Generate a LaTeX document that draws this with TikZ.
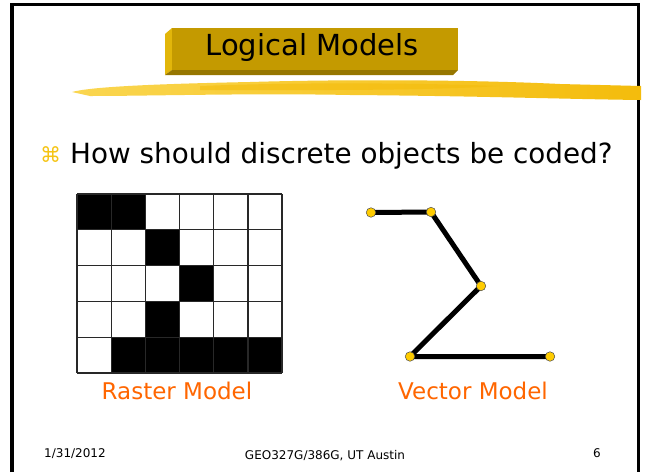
\documentclass[tikz,border=0pt]{standalone}
\usepackage{fontspec}
\setmainfont{DejaVu Sans}
\usetikzlibrary{shapes.geometric}
\definecolor{titlegold}{RGB}{196,154,0}
\definecolor{titlelight}{RGB}{226,182,10}
\definecolor{titledark}{RGB}{150,118,0}
\definecolor{brushA}{RGB}{250,214,80}
\definecolor{brushB}{RGB}{244,188,12}
\definecolor{bulletgold}{RGB}{245,196,20}
\definecolor{labelorange}{RGB}{255,102,0}
\definecolor{dotgold}{RGB}{255,204,0}
\definecolor{gridgray}{RGB}{40,40,40}
\tikzset{
  frameline/.style={line width=3.5pt, black},
  titletext/.style={font=\fontsize{29}{34}\selectfont, text=black, inner sep=0pt},
  bullettext/.style={font=\fontsize{27.8}{33}\selectfont, text=black, anchor=base west, inner sep=0pt},
  bulletsym/.style={font=\fontsize{21}{25}\selectfont, text=bulletgold, anchor=base west, inner sep=0pt},
  modellabel/.style={font=\fontsize{23}{28}\selectfont, text=labelorange, anchor=base, inner sep=0pt},
  footer/.style={font=\fontsize{12}{14}\selectfont, text=black, anchor=base, inner sep=0pt},
  cellline/.style={draw=gridgray, line width=1.3pt},
  vecline/.style={line width=5pt, black},
  vertex/.style={circle, fill=dotgold, draw=black!70, line width=0.5pt, minimum size=9.5pt, inner sep=0pt},
}
\begin{document}
\begin{tikzpicture}[x=1pt,y=-1pt]
\useasboundingbox (0,0) rectangle (645,472);
\fill[white] (0,0) rectangle (645,472);
% slide frame
\draw[frameline] (12,472) -- (12,4.5) -- (638.5,4.5) -- (638.5,472);
% brush stroke
\shade[left color=brushA, right color=brushB]
  (72,92) .. controls (90,87) and (150,84) .. (250,82)
  .. controls (350,79) and (480,80) .. (560,84)
  -- (641,86) -- (641,100)
  .. controls (560,99) and (480,96) .. (350,95)
  .. controls (250,93) and (150,96) .. (90,96) -- cycle;
\fill[brushB, opacity=0.6] (200,86) .. controls (300,82) and (420,83) .. (500,86)
  .. controls (420,91) and (300,90) .. (200,90) -- cycle;
% title box
\fill[titlelight] (165,34) -- (172,28) -- (172,70) -- (165,75) -- cycle;
\fill[titledark] (165,75) -- (172,70) -- (458,70) -- (453,75) -- cycle;
\fill[titlegold] (172,28) rectangle (458,70);
\node[titletext] (title) at (312,47) {Logical Models};
% bullet
\node[bulletsym] (bullet) at (40,162) {⌘};
\node[bullettext] (question) at (70,163) {How should discrete objects be coded?};
% raster grid
\foreach \c/\r in {0/0,1/0,2/1,3/2,2/3,1/4,2/4,3/4,4/4,5/4}{
  \fill[black] (77+\c*34.17,194+\r*35.8) rectangle (77+\c*34.17+34.17,194+\r*35.8+35.8);
}
\foreach \i in {0,...,6}{
  \draw[cellline] (77+\i*34.17,194) -- (77+\i*34.17,373);
}
\foreach \j in {0,...,5}{
  \draw[cellline] (77,194+\j*35.8) -- (282,194+\j*35.8);
}
\node[modellabel] (raster) at (177,399) {Raster Model};
% vector model
\coordinate (p1) at (371,212.5);
\coordinate (p2) at (431,212);
\coordinate (p3) at (481,286);
\coordinate (p4) at (410,356.5);
\coordinate (p5) at (550,356.5);
\draw[vecline, line join=round] (p1) -- (p2) -- (p3) -- (p4) -- (p5);
\foreach \p in {p1,p2,p3,p4,p5}{ \node[vertex] (v\p) at (\p) {}; }
\node[modellabel] (vector) at (473,399) {Vector Model};
% footer
\node[footer] (date) at (75,457) {1/31/2012};
\node[footer] (course) at (325,459) {GEO327G/386G, UT Austin};
\node[footer] (page) at (597,457) {6};
\end{tikzpicture}
\end{document}
